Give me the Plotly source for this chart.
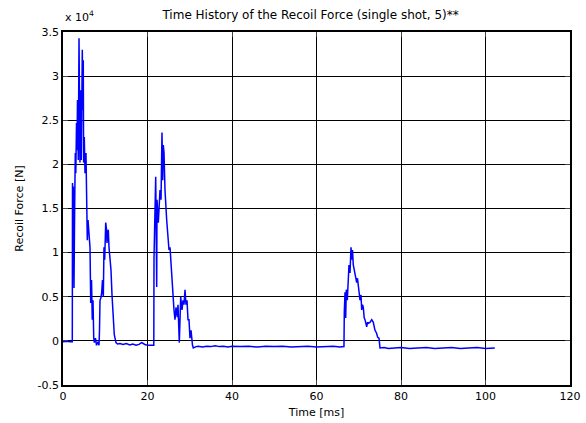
import plotly.graph_objects as go

# Time [ms]
time_ms = [
    0.0, 0.95, 1.66, 2.2, 2.25, 2.32, 2.44, 2.60, 2.77, 2.91, 3.03, 3.20, 3.31, 3.43, 3.62,
    3.79, 3.91, 4.02, 4.19, 4.33, 4.57, 4.69, 4.80, 4.88, 5.04, 5.21, 5.44, 5.61, 5.75,
    5.92, 6.08, 6.39, 6.56, 6.75, 6.93, 7.10, 7.27, 7.41, 7.69, 7.93, 8.28, 8.52, 8.64,
    8.76, 8.99, 9.16, 9.35, 9.54, 9.70, 9.87, 10.11, 10.30, 10.41, 10.72, 10.89, 11.12,
    11.36, 11.60, 11.91, 12.14, 12.54,
    12.9, 13.5, 14.2, 15.0, 15.8, 16.5, 17.3, 18.0, 18.6, 19.0, 19.5, 20.2, 21.0, 21.49,
    21.54, 21.94, 22.18, 22.25, 22.56, 22.72, 22.96, 23.20, 23.43, 23.60, 23.74, 23.91,
    24.14, 24.54, 24.92, 25.09, 25.33, 25.56, 25.80, 26.04, 26.27, 26.51, 26.75, 27.05,
    27.22, 27.53, 27.86, 28.17, 28.40, 28.64, 28.88, 29.11, 29.35, 29.59, 29.82, 30.06,
    30.30, 30.65, 30.84,
    31.5, 32, 33, 34, 35, 36, 37, 38, 39, 40, 42, 44, 46, 48, 50, 52, 54, 56, 58, 60, 62,
    64, 65.5, 66.5,
    66.58, 66.75, 66.91, 67.05, 67.29, 67.53, 67.69, 67.93, 68.17, 68.33, 68.52, 68.71,
    68.95, 69.23, 69.51, 69.70, 69.89, 70.11, 70.30, 70.53, 70.70, 70.89, 71.08, 71.29,
    71.48, 71.88, 72.07, 72.26, 72.66, 73.07, 73.44, 73.85, 74.20, 74.49, 74.79, 75.03,
    76, 77, 78, 80, 82, 84, 86, 88, 90, 92, 94, 96, 98, 100, 102.2,
]

# Recoil force [N]
force_n = [
    -100, -50, -100, -100, 17900, 8800, 17500, 6000, 15600, 21300, 19000, 24700, 21600,
    27300, 20500, 34300, 25000, 20200, 28400, 20500, 33000, 26200, 31800, 20200, 23100,
    19000, 21300, 14000, 11400, 13700, 12000, 10600, 4300, 6900, 2400, 4600, 400, -200,
    300, -500, -100, -500, 1200, 4600, 4900, 5500, 6900, 5000, 10600, 9200, 13400, 12600,
    11100, 12600, 10600, 9200, 8000, 5200, 2700, 700, -200,
    -350, -300, -400, -300, -450, -350, -500, -400, -200, -300, -450, -500, -550, -500,
    9400, 18600, 6100, 16000, 13400, 15400, 17100, 16000, 23600, 18200, 22200, 21300,
    17100, 13700, 11800, 10300, 10600, 8600, 6600, 5000, 3500, 2400, 3800, 2700, 4100,
    -200, 5000, 3500, 4600, 4100, 5800, 4100, 4600, 2400, 2400, 300, 1200, -500, -800,
    -650, -600, -700, -600, -650, -550, -650, -600, -700, -600, -650, -600, -700, -600,
    -650, -600, -700, -650, -600, -700, -650, -600, -700, -650,
    3200, 5500, 2600, 5800, 4600, 7500, 8600, 7700, 10600, 9200, 10300, 8600, 8000, 6900,
    6600, 7100, 6100, 5000, 4600, 5200, 3500, 4100, 3800, 2600, 2400, 1600, 2100, 2000,
    2100, 2400, 2100, 1200, 900, 400, 300, -800,
    -750, -850, -800, -750, -850, -800, -750, -850, -800, -750, -850, -800, -750, -850, -800,
]

y_ticks = [-0.5, 0, 0.5, 1, 1.5, 2, 2.5, 3, 3.5]
y_tick_labels = ["-0.5", "0", "0.5", "1", "1.5", "2", "2.5", "3", "3.5"]
x_ticks = [0, 20, 40, 60, 80, 100, 120]

FONT = "DejaVu Sans, Liberation Sans, Arial, sans-serif"

fig = go.Figure()
fig.add_trace(go.Scatter(
    x=time_ms,
    y=[f / 1e4 for f in force_n],
    mode="lines",
    line=dict(color="#0000FF", width=1.5),
    showlegend=False,
))

fig.update_layout(
    width=586, height=423,
    margin=dict(l=63, r=16, t=32, b=38),
    paper_bgcolor="white", plot_bgcolor="white",
    font=dict(family=FONT, size=11, color="black"),
    title=dict(text="Time History of the Recoil Force (single shot, 5)**",
               x=0.53, xanchor="center", y=0.965, yanchor="middle",
               font=dict(family=FONT, size=12, color="black")),
    annotations=[dict(text="x 10<sup>4</sup>", xref="paper", yref="paper",
                      x=0.0, y=1.0, xanchor="left", yanchor="bottom",
                      yshift=6, showarrow=False,
                      font=dict(family=FONT, size=11, color="black"))],
)
fig.update_xaxes(
    range=[0, 120], tickvals=x_ticks, ticks="inside", ticklen=5,
    showline=True, linecolor="black", linewidth=1.5, mirror="ticks",
    showgrid=True, gridcolor="black", gridwidth=1, zeroline=False,
    title=dict(text="Time [ms]", standoff=6, font=dict(size=11)),
    tickfont=dict(size=11), automargin=False,
)
fig.update_yaxes(
    range=[-0.5, 3.5], tickvals=y_ticks, ticktext=y_tick_labels,
    ticks="inside", ticklen=5,
    showline=True, linecolor="black", linewidth=1.5, mirror="ticks",
    showgrid=True, gridcolor="black", gridwidth=1, zeroline=False,
    title=dict(text="Recoil Force [N]", standoff=12, font=dict(size=11)),
    tickfont=dict(size=11), automargin=False,
)

fig.write_html("out.html")
